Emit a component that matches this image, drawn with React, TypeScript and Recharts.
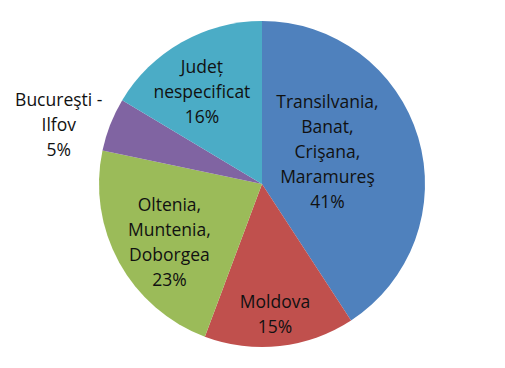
import React from "react";
import { PieChart, Pie, Cell } from "recharts";

const regions = [
  "Transilvania, Banat, Crişana, Maramureş",
  "Moldova",
  "Oltenia, Muntenia, Doborgea",
  "Bucureşti - Ilfov",
  "Județ nespecificat",
];
const shares = [40.8, 14.9, 22.6, 5.3, 16.4];
const labelLines = [
  ["Transilvania,", "Banat,", "Crişana,", "Maramureş"],
  ["Moldova"],
  ["Oltenia,", "Muntenia,", "Doborgea"],
  ["Bucureşti -", "Ilfov"],
  ["Județ", "nespecificat"],
];
const colors = ["#4F81BD", "#C0504D", "#9BBB59", "#8064A2", "#4BACC6"];

// label placement: fraction of radius and angle adjustment (degrees)
const labelPlace = [
  { rf: 0.45, da: 10.3 },
  { rf: 0.8, da: -0.6 },
  { rf: 0.67, da: 3.2 },
  { rf: 1.3, da: 5 },
  { rf: 0.68, da: 3.3 },
];

const data = regions.map((name, i) => ({ name, value: shares[i], idx: i }));

const RAD = Math.PI / 180;
const LINE_H = 25;

const renderLabel = (props: any) => {
  const { cx, cy, midAngle, outerRadius, percent, index } = props;
  const p = labelPlace[index];
  const a = (midAngle + p.da) * RAD;
  const r = outerRadius * p.rf;
  const x = cx + r * Math.cos(a);
  const y = cy - r * Math.sin(a);
  const lines = [...labelLines[index], `${Math.round(percent * 100)}%`];
  const y0 = y - ((lines.length - 1) * LINE_H) / 2;
  return (
    <text
      x={x}
      y={y0}
      textAnchor="middle"
      dominantBaseline="central"
      fill="#111"
      fontSize={17.5}
      fontFamily="'Open Sans', sans-serif"
    >
      {lines.map((l, i) => (
        <tspan key={i} x={x} y={y0 + i * LINE_H}>
          {l}
        </tspan>
      ))}
    </text>
  );
};

export default function App() {
  return (
    <div style={{ position: "absolute", left: 0, top: 0, width: 505, height: 368, background: "#fff" }}>
      <PieChart width={505} height={368} margin={{ top: 0, right: 0, bottom: 0, left: 0 }}>
        <Pie
          data={data}
          dataKey="value"
          nameKey="name"
          cx={262}
          cy={184}
          outerRadius={163}
          startAngle={90}
          endAngle={-270}
          stroke="none"
          label={renderLabel}
          labelLine={false}
          isAnimationActive={false}
        >
          {data.map((d, i) => (
            <Cell key={i} fill={colors[i]} />
          ))}
        </Pie>
      </PieChart>
    </div>
  );
}
